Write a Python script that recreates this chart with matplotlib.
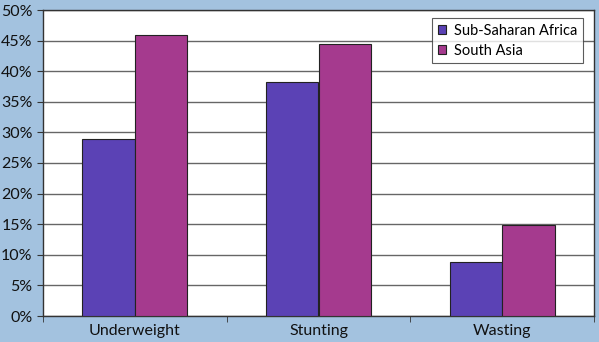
import matplotlib.pyplot as plt
import numpy as np
from matplotlib.ticker import FuncFormatter, MultipleLocator

categories = ["Underweight", "Stunting", "Wasting"]
series_names = ["Sub-Saharan Africa", "South Asia"]
ssa = [29.0, 38.2, 8.9]
sa = [45.9, 44.4, 14.8]

colors = ["#5b42b5", "#a53a8e"]
bg = "#a3c2df"

plt.rcParams["font.family"] = ["Lato", "DejaVu Sans"]

fig = plt.figure(figsize=(5.99, 3.42), dpi=100, facecolor=bg)
ax = fig.add_axes([43/599, 26/342, (594-43)/599, (316-10)/342])
ax.set_facecolor("white")

x = np.arange(len(categories))
w = 0.285
ax.bar(x - w/2, ssa, w, color=colors[0], edgecolor="#222222", linewidth=0.8, label=series_names[0], zorder=3)
ax.bar(x + w/2, sa, w, color=colors[1], edgecolor="#222222", linewidth=0.8, label=series_names[1], zorder=3)

ax.set_xlim(-0.5, 2.5)
ax.set_ylim(0, 50)
ax.yaxis.set_major_locator(MultipleLocator(5))
ax.yaxis.set_major_formatter(FuncFormatter(lambda v, p: f"{int(v)}%"))
ax.grid(axis="y", color="#666666", linewidth=1.0, zorder=0)
ax.set_xticks(x)
ax.set_xticklabels(categories)
ax.set_xticks([-0.5, 0.5, 1.5, 2.5], minor=True)
ax.tick_params(axis="x", which="major", length=0, pad=6, labelsize=11.5, colors="#111111")
ax.tick_params(axis="x", which="minor", length=4, color="#333333")
ax.tick_params(axis="y", length=4, labelsize=11.5, color="#333333", labelcolor="#111111")
for s in ax.spines.values():
    s.set_color("#333333")
    s.set_linewidth(1.0)

leg = ax.legend(loc="upper right", fontsize=10.5, frameon=True, fancybox=False,
                edgecolor="#333333", handlelength=0.55, handleheight=0.55,
                handletextpad=0.55, borderpad=0.4, labelspacing=0.4,
                borderaxespad=0, bbox_to_anchor=(0.980, 0.974))
leg.get_frame().set_linewidth(0.8)

fig.savefig("out.png", dpi=100, facecolor=bg)
